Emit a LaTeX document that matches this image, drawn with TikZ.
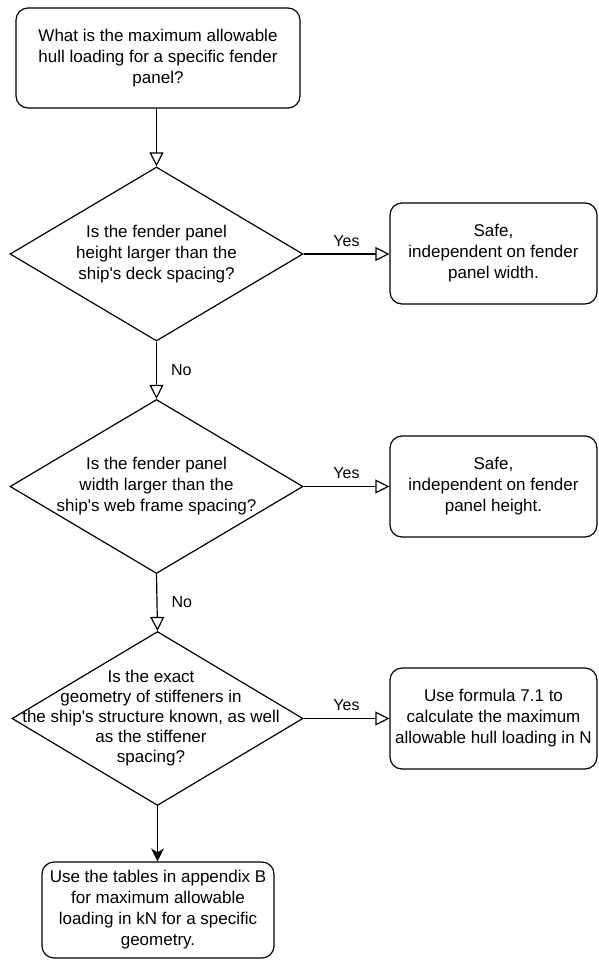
\documentclass[tikz,border=0pt]{standalone}
\usepackage{fontspec}
\setmainfont{Liberation Sans}
\usetikzlibrary{shapes.geometric,arrows.meta}
\newcommand{\apos}{\textquotesingle}
\begin{document}
\begin{tikzpicture}[x=1pt,y=-1pt,
  every node/.style={font=\fontsize{17}{21}\selectfont, inner sep=0pt},
  box/.style={draw, line width=1.2pt, rounded corners=12pt, rectangle, align=center},
  decision/.style={draw, line width=1.2pt, diamond, shape aspect=1},
  flow/.style={line width=1.2pt, -{Triangle[open, length=14pt, width=14pt, line width=1.2pt]}},
  flowfilled/.style={line width=1.2pt, -{Stealth[length=13pt, width=13pt, inset=4pt]}},
  lbl/.style={font=\fontsize{16}{19}\selectfont}]
\useasboundingbox (0,0) rectangle (598,960);

% question box at the top
\node[box, minimum width=284pt, minimum height=100pt] (start) at (158,58)
  {What is the maximum allowable\\hull loading for a specific fender\\panel?};

% decisions
\node[decision, minimum width=293pt, minimum height=174pt] (d1) at (156.5,254) {};
\node[align=center] at (156.5,254) {Is the fender panel\\height larger than the\\ship\apos s deck spacing?};

\node[decision, minimum width=293pt, minimum height=174pt] (d2) at (156.5,486.5) {};
\node[align=center] at (156.5,486.5) {Is the fender panel\\width larger than the\\ship\apos s web frame spacing?};

\node[decision, minimum width=291pt, minimum height=174pt] (d3) at (157.5,718.5) {};
\node[align=center, font=\fontsize{17}{20}\selectfont] at (151,718) {Is the exact\\geometry of stiffeners in\\the ship\apos s structure known, as well\\as the stiffener\\spacing?};

% outcomes
\node[box, minimum width=207pt, minimum height=101pt] (r1) at (493.5,253.5)
  {Safe,\\independent on fender\\panel width.};
\node[box, minimum width=207pt, minimum height=101pt] (r2) at (493.5,486.5)
  {Safe,\\independent on fender\\panel height.};
\node[box, minimum width=207pt, minimum height=101pt] (r3) at (493.5,718.5)
  {Use formula 7.1 to\\calculate the maximum\\allowable hull loading in N};
\node[box, minimum width=232pt, minimum height=96pt] (tables) at (158,910)
  {Use the tables in appendix B\\for maximum allowable\\loading in kN for a specific\\geometry.};

% connectors
\draw[flow] (start.south -| d1.north) -- (d1.north);
\draw[flow] (d1.east) -- node[lbl, above=7pt] {Yes} (r1.west |- d1.east);
\draw[flow] (d1.south) -- node[lbl, right=14pt] {No} (d2.north);
\draw[flow] (d2.east) -- node[lbl, above=7pt] {Yes} (r2.west |- d2.east);
\draw[flow] (d2.south) -- node[lbl, right=14pt] {No} (d3.north);
\draw[flow] (d3.east) -- node[lbl, above=7pt] {Yes} (r3.west |- d3.east);
\draw[flowfilled] (d3.south) -- (tables.north -| d3.south);
\end{tikzpicture}
\end{document}
